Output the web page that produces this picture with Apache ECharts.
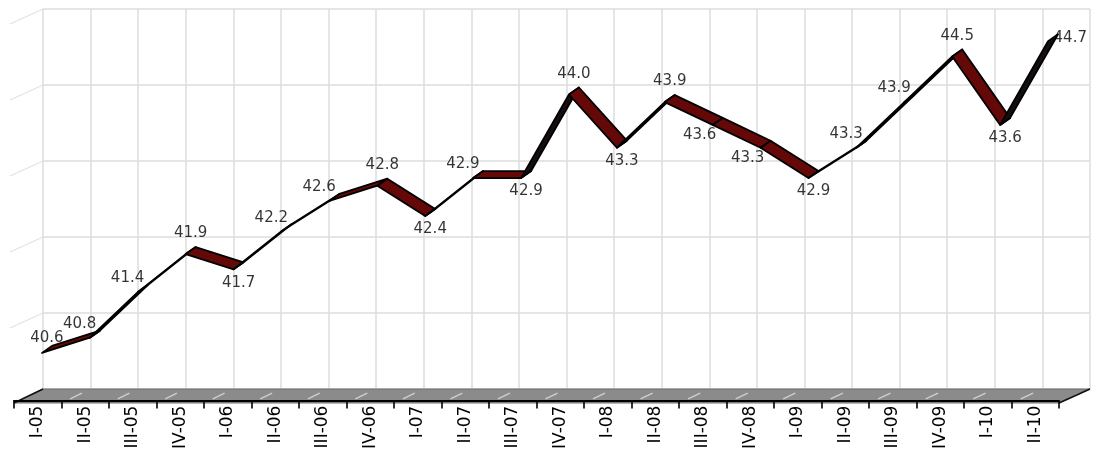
<!DOCTYPE html>
<html>
<head>
<meta charset="utf-8">
<script src="https://cdn.jsdelivr.net/npm/echarts@6/dist/echarts.min.js"></script>
<style>
  html, body { margin: 0; padding: 0; background: #fff; }
  #chart { width: 1103px; height: 452px; }
</style>
</head>
<body>
<div id="chart"></div>
<script>
// Quarterly series, 2005 Q1 .. 2010 Q2
const categories = ['I-05', 'II-05', 'III-05', 'IV-05', 'I-06', 'II-06', 'III-06', 'IV-06',
  'I-07', 'II-07', 'III-07', 'IV-07', 'I-08', 'II-08', 'III-08', 'IV-08',
  'I-09', 'II-09', 'III-09', 'IV-09', 'I-10', 'II-10'];
const values = [40.6, 40.8, 41.4, 41.9, 41.7, 42.2, 42.6, 42.8,
  42.4, 42.9, 42.9, 44.0, 43.3, 43.9, 43.6, 43.3,
  42.9, 43.3, 43.9, 44.5, 43.6, 44.7];
const yMin = 40;
const yMax = 45;
const yStep = 1;

// Pseudo-3D geometry: back wall, ribbon plane, front axis
const wall = { left: 43, top: 9, width: 1047, height: 380 };
const front = { left: 14, width: 1045, y: 403 };
const ribbonDepth = [10, -7];

const chart = echarts.init(document.getElementById('chart'));

// Each ribbon segment joins point i to point i+1
const segments = values.slice(0, -1).map((v, i) => [i, v, i + 1, values[i + 1]]);

function renderSegment(params, api) {
  const a = api.coord([api.value(0), api.value(1)]);
  const b = api.coord([api.value(2), api.value(3)]);
  const hx = ribbonDepth[0] / 2, hy = ribbonDepth[1] / 2;
  const pts = [
    [a[0] - hx, a[1] - hy], [b[0] - hx, b[1] - hy],
    [b[0] + hx, b[1] + hy], [a[0] + hx, a[1] + hy]
  ];
  const cross = (b[0] - a[0]) * ribbonDepth[1] - (b[1] - a[1]) * ribbonDepth[0];
  const fill = cross < 0 ? '#650808' : '#150e0e';
  return {
    type: 'polygon',
    shape: { points: pts },
    style: { fill: fill, stroke: '#000', lineWidth: 1.8, lineJoin: 'round' }
  };
}

// Label placement follows the local shape of the series
function labelFor(i) {
  const v = values[i], p = values[i - 1], n = values[i + 1];
  const base = {
    show: true, fontSize: 15, color: '#000', fontFamily: 'DejaVu Sans',
    formatter: (d) => d.value.toFixed(1)
  };
  if (p === undefined) return Object.assign(base, { position: 'top', distance: 3 });
  if (n === undefined) return Object.assign(base, { position: 'right', distance: 0, offset: [0, 0] });
  if (p < v && v <= n) return Object.assign(base, { position: 'left', distance: 2, offset: [4, -10] });
  if (v <= p && v <= n) return Object.assign(base, { position: 'bottom', distance: 9 });
  if (v >= p && v >= n) return Object.assign(base, { position: 'top', distance: 9 });
  return Object.assign(base, { position: 'bottom', distance: 6, offset: [-18, 0] });
}
const labelData = values.map((v, i) => ({ value: v, label: labelFor(i) }));

// Floor slab and side-wall guide lines
const graphics = [];
const floorBackY = wall.top + wall.height;
graphics.push({
  type: 'polygon', z: 1,
  shape: { points: [[front.left, front.y], [front.left + front.width, front.y],
    [wall.left + wall.width, floorBackY], [wall.left, floorBackY]] },
  style: { fill: '#8b8b8b', stroke: '#6f6f6f', lineWidth: 1 }
});
for (let k = 0; k <= categories.length; k++) {
  const fx = front.left + k * front.width / categories.length;
  const bx = wall.left + k * wall.width / categories.length;
  const t0 = 0.3, t1 = 0.7;
  graphics.push({
    type: 'line', z: 1,
    shape: { x1: fx + (bx - fx) * t0, y1: front.y + (floorBackY - front.y) * t0,
             x2: fx + (bx - fx) * t1, y2: front.y + (floorBackY - front.y) * t1 },
    style: { stroke: '#cfcfcf', lineWidth: 1.4 }
  });
}
graphics.push({
  type: 'line', z: 2,
  shape: { x1: front.left, y1: front.y, x2: wall.left, y2: floorBackY },
  style: { stroke: '#111', lineWidth: 1.6 }
});
graphics.push({
  type: 'line', z: 2,
  shape: { x1: front.left + front.width, y1: front.y, x2: wall.left + wall.width, y2: floorBackY },
  style: { stroke: '#111', lineWidth: 1.6 }
});
const steps = (yMax - yMin) / yStep;
for (let k = 1; k <= steps; k++) {
  const y = wall.top + wall.height - k * wall.height / steps;
  graphics.push({
    type: 'line', z: 0,
    shape: { x1: wall.left, y1: y, x2: wall.left - 33, y2: y + 15 },
    style: { stroke: '#e2e2e2', lineWidth: 1.2 }
  });
}

chart.setOption({
  backgroundColor: '#ffffff',
  animation: false,
  graphic: { elements: graphics },
  grid: [
    { left: wall.left, top: wall.top, width: wall.width, height: wall.height },
    { left: 23, top: 15, width: 1054, height: 380 },
    { left: front.left, top: front.y - 14, width: front.width, height: 14 }
  ],
  xAxis: [
    {
      gridIndex: 0, type: 'category', data: categories, boundaryGap: true,
      axisLine: { show: false }, axisTick: { show: false }, axisLabel: { show: false },
      splitLine: { show: true, lineStyle: { color: '#dddddd', width: 1.5 } }
    },
    { gridIndex: 1, type: 'category', data: categories, boundaryGap: true, show: false },
    {
      gridIndex: 2, type: 'category', data: categories, boundaryGap: true, position: 'bottom', z: 10,
      axisLine: { show: true, lineStyle: { color: '#000', width: 1.8 } },
      axisTick: { show: true, length: 8, lineStyle: { color: '#000', width: 1.6 } },
      axisLabel: { interval: 0, rotate: 90, margin: 5, fontSize: 17, color: '#000', fontFamily: 'DejaVu Sans' },
      splitLine: { show: false }
    }
  ],
  yAxis: [
    {
      gridIndex: 0, type: 'value', min: yMin, max: yMax, interval: yStep,
      axisLine: { show: false }, axisTick: { show: false }, axisLabel: { show: false },
      splitLine: { show: true, lineStyle: { color: '#dddddd', width: 1.5 } }
    },
    { gridIndex: 1, type: 'value', min: yMin, max: yMax, interval: yStep, show: false },
    { gridIndex: 2, type: 'value', min: 0, max: 1, show: false }
  ],
  series: [
    {
      type: 'custom', xAxisIndex: 1, yAxisIndex: 1, z: 5,
      renderItem: renderSegment,
      encode: { x: [0, 2], y: [1, 3] },
      data: segments,
      silent: true
    },
    {
      type: 'scatter', xAxisIndex: 1, yAxisIndex: 1, z: 6,
      symbolSize: 1, itemStyle: { color: 'rgba(0,0,0,0)' },
      data: labelData,
      silent: true
    }
  ]
});
</script>
</body>
</html>
